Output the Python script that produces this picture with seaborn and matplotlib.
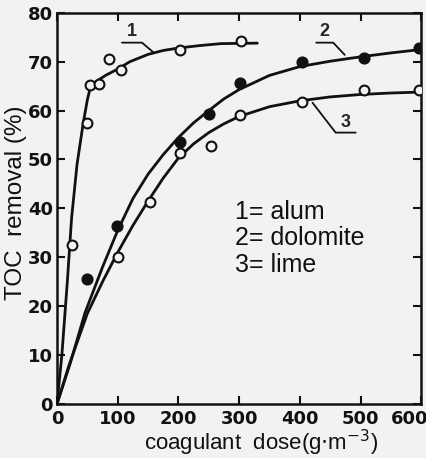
import matplotlib
matplotlib.use('Agg')
import matplotlib.pyplot as plt
import matplotlib.transforms as mtransforms
import pandas as pd
import seaborn as sns

# measured points (open = alum, lime; filled = dolomite)
alum_dose = [25, 50, 55, 70, 85, 105, 203, 303]
alum_toc = [32.5, 57.5, 65.3, 65.5, 70.6, 68.4, 72.3, 74.2]
dolo_dose = [49, 99, 202, 251, 302, 404, 505, 597]
dolo_toc = [25.5, 36.5, 53.5, 59.3, 65.6, 69.9, 70.8, 72.8]
lime_dose = [101, 153, 202, 254, 302, 404, 505, 597]
lime_toc = [30, 41.3, 51.4, 52.8, 59, 61.8, 64.2, 64.3]

# fitted curves
curve1_x = [0, 8, 17, 24, 33, 43, 50, 54, 58, 65, 80, 100, 120, 150, 175, 200, 235, 270, 330]
curve1_y = [0, 10, 25, 38, 49, 57.3, 62.2, 64.3, 65.3, 66.0, 67.2, 68.5, 70.0, 71.5, 72.3, 72.8, 73.3, 73.7, 73.8]
curve2_x = [0, 22, 46, 75, 100, 125, 150, 175, 200, 225, 250, 275, 300, 350, 400, 450, 500, 550, 600]
curve2_y = [0, 8.4, 18.6, 28, 35.5, 42, 47, 51, 54.5, 57.5, 60, 62.4, 64.3, 67.2, 69, 70.1, 71, 71.8, 72.5]
curve3_x = [0, 20, 50, 75, 100, 125, 150, 175, 200, 225, 250, 275, 300, 350, 400, 450, 500, 550, 600]
curve3_y = [0, 8, 18.5, 25, 31, 36.5, 41.5, 46.2, 50.3, 53.2, 55.5, 57.3, 58.8, 60.8, 62, 62.8, 63.3, 63.6, 63.8]

legend_lines = ['1= alum', '2= dolomite', '3= lime']

sns.set_style('ticks')
plt.rcParams['font.family'] = ['Liberation Sans', 'DejaVu Sans']

fig = plt.figure(figsize=(4.27, 4.58), dpi=100, facecolor='#f2f2f0')
ax = fig.add_axes([0.1335, 0.118, 0.853, 0.854])
ax.set_facecolor('#f2f2f0')

ink = '#111111'
for cx, cy in [(curve1_x, curve1_y), (curve2_x, curve2_y), (curve3_x, curve3_y)]:
    sns.lineplot(x=cx, y=cy, ax=ax, color=ink, linewidth=2.0, sort=False,
                 solid_joinstyle='round', solid_capstyle='round')

open_pts = pd.DataFrame({'dose': alum_dose + lime_dose, 'toc': alum_toc + lime_toc})
sns.scatterplot(data=open_pts, x='dose', y='toc', ax=ax, s=50, marker='o',
                facecolor='#f2f2f0', edgecolor=ink, linewidth=1.5, zorder=4)
sns.scatterplot(x=dolo_dose, y=dolo_toc, ax=ax, s=60, marker='o',
                color=ink, edgecolor=ink, linewidth=1, zorder=4)

# curve labels with leader lines
ax.plot([107, 140, 158], [73.9, 73.9, 72.0], color=ink, lw=1.3)
ax.text(124, 74.4, '1', fontsize=13, fontweight='bold', ha='center', va='bottom')
ax.plot([427, 455, 474], [73.9, 73.9, 71.4], color=ink, lw=1.3)
ax.text(441, 74.4, '2', fontsize=13, fontweight='bold', ha='center', va='bottom')
ax.plot([421, 459, 492], [61.6, 55.5, 55.5], color=ink, lw=1.3)
ax.text(475, 55.9, '3', fontsize=13, fontweight='bold', ha='center', va='bottom')

for i, line in enumerate(legend_lines):
    ax.text(293, 39.3 - i * 5.4, line, fontsize=18, ha='left', va='center', color=ink)

ax.set_xlim(0, 600)
ax.set_ylim(0, 80)
ax.set_xticks(range(0, 601, 100))
ax.set_yticks(range(0, 81, 10))
ax.tick_params(direction='in', length=6, width=1.5, top=True, right=True,
               labeltop=False, labelright=False, pad=3, colors=ink)
ax.tick_params(axis='x', pad=4)
for lab in ax.get_xticklabels() + ax.get_yticklabels():
    lab.set_family(['Liberation Sans Narrow', 'DejaVu Sans'])
    lab.set_fontsize(13)
    lab.set_fontweight('bold')
# last x label sits just inside the figure edge, as in the original
last = ax.get_xticklabels()[-1]
last.set_transform(last.get_transform() + mtransforms.ScaledTranslation(-0.12, 0, fig.dpi_scale_trans))
for sp in ax.spines.values():
    sp.set_visible(True)
    sp.set_linewidth(1.8)
    sp.set_color(ink)

ax.set_xlabel('coagulant  dose(g$\\cdot$m$^{-3}$)', fontsize=16, color=ink)
ax.set_ylabel('TOC  removal (%)', fontsize=17.5, color=ink)
ax.xaxis.set_label_coords(0.56, -0.062)
ax.yaxis.set_label_coords(-0.082, 0.514)

fig.savefig('out.png', dpi=100, facecolor=fig.get_facecolor())
